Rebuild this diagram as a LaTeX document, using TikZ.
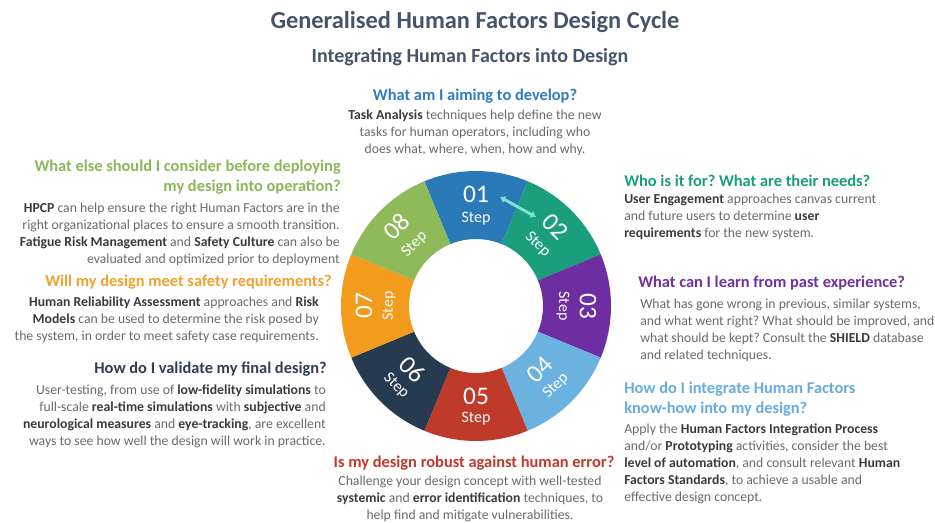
\documentclass[tikz,border=0pt]{standalone}
\usepackage{fontspec}
\setmainfont{Carlito}
\usepackage{xcolor}
\usepackage{tikz}
\usetikzlibrary{arrows.meta}
\definecolor{hfslate}{HTML}{44546A}
\definecolor{hfgray}{HTML}{6A6A6A}
\definecolor{hfdark}{HTML}{3A3A3A}
\definecolor{hfaqua}{HTML}{7FE3D4}
\definecolor{stepA}{HTML}{2A7AB8}
\definecolor{stepB}{HTML}{1A9E7E}
\definecolor{stepC}{HTML}{6C2EA0}
\definecolor{stepD}{HTML}{6CB2E0}
\definecolor{stepE}{HTML}{BF3A2B}
\definecolor{stepF}{HTML}{263B50}
\definecolor{stepG}{HTML}{F29B1D}
\definecolor{stepH}{HTML}{8FBA5A}
\definecolor{qA}{HTML}{2E7BBF}
\definecolor{qB}{HTML}{1A9C7D}
\definecolor{qC}{HTML}{7030A0}
\definecolor{qD}{HTML}{67ACDF}
\definecolor{qE}{HTML}{C0392B}
\definecolor{qF}{HTML}{2A3F55}
\definecolor{qG}{HTML}{F0A22E}
\definecolor{qH}{HTML}{8DB65A}
\newcommand{\kw}[1]{{\bfseries\color{hfdark}#1}}

\begin{document}
\frenchspacing
\begin{tikzpicture}[x=0.75pt,y=0.75pt,every node/.style={inner sep=0pt},
  qhead/.style={font=\fontsize{12.3}{15}\selectfont\bfseries},
  answer/.style={font=\fontsize{10.3}{12.75}\selectfont,text=hfgray},
  stepnum/.style={text=white,font=\fontsize{19}{19}\selectfont},
  stepword/.style={text=white,font=\fontsize{12}{12}\selectfont}]
  \useasboundingbox (0,0) rectangle (935,522);
  \node[font=\fontsize{18.3}{20}\selectfont\bfseries,text=hfslate] (title) at (475,500)
    {Generalised Human Factors Design Cycle};
  \node[font=\fontsize{15}{17}\selectfont\bfseries,text=hfslate] (subtitle) at (470,465)
    {Integrating Human Factors into Design};

  \coordinate (ctr) at (476,216);
  \foreach \num/\col/\rot/\rn/\rs [count=\i from 0] in {01/stepA/0/112/87,02/stepB/-45/112/87,
      03/stepC/-90/112/87,04/stepD/45/90/113,05/stepE/0/90/113,06/stepF/-45/90/113,
      07/stepG/90/112/87,08/stepH/45/112/87} {
    \pgfmathsetmacro\mid{90-45*\i}
    \fill[\col] ([shift={(\mid+22.5:135)}]ctr)
      arc[start angle=\mid+22.5,end angle=\mid-22.5,radius=135]
      -- ([shift={(\mid-22.5:67)}]ctr)
      arc[start angle=\mid-22.5,end angle=\mid+22.5,radius=67] -- cycle;
    \node[stepnum,rotate=\rot] (num\num) at ([shift={(\mid:\rn)}]ctr) {\num};
    \node[stepword,rotate=\rot] (word\num) at ([shift={(\mid:\rs)}]ctr) {Step};
  }
  \coordinate (arrS) at (500,325);
  \coordinate (arrE) at (536,305);
  \draw[{Latex[length=4pt,width=6pt]}-{Latex[length=4pt,width=6pt]},hfaqua,line width=2.2pt]
    (arrS) -- (arrE);

  \node[qhead,text=qA] (qTop) at (475,426) {What am I aiming to develop?};
  \node[answer,align=center] (aTop) at (475,389)
    {\kw{Task Analysis} techniques help define the new\\
     tasks for human operators, including who\\
     does what, where, when, how and why.};

  \node[qhead,text=qH,align=right,anchor=east] (qDeploy) at (341,345)
    {What else should I consider before deploying\\ my design into operation?};
  \node[answer,align=right,anchor=east] (aDeploy) at (340,288)
    {\kw{HPCP} can help ensure the right Human Factors are in the\\
     right organizational places to ensure a smooth transition.\\
     \kw{Fatigue Risk Management} and \kw{Safety Culture} can also be\\
     evaluated and optimized prior to deployment};

  \node[qhead,text=qG,anchor=east] (qSafety) at (332,240)
    {Will my design meet safety requirements?};
  \node[answer,align=right,anchor=east] (aSafety) at (319,202)
    {\kw{Human Reliability Assessment} approaches and \kw{Risk}\\
     \kw{Models} can be used to determine the risk posed by\\
     the system, in order to meet safety case requirements.};

  \node[qhead,text=qF,anchor=east] (qValid) at (327,153)
    {How do I validate my final design?};
  \node[answer,align=right,anchor=east] (aValid) at (326,106)
    {User-testing, from use of \kw{low-fidelity simulations} to\\
     full-scale \kw{real-time simulations} with \kw{subjective} and\\
     \kw{neurological measures} and \kw{eye-tracking}, are excellent\\
     ways to see how well the design will work in practice.};

  \node[qhead,text=qB,anchor=west] (qUsers) at (624,341)
    {Who is it for? What are their needs?};
  \node[answer,align=left,anchor=west] (aUsers) at (624,305)
    {\kw{User Engagement} approaches canvas current\\
     and future users to determine \kw{user}\\
     \kw{requirements} for the new system.};

  \node[qhead,text=qC,anchor=west] (qPast) at (638,239)
    {What can I learn from past experience?};
  \node[answer,align=left,anchor=west] (aPast) at (640,192)
    {What has gone wrong in previous, similar systems,\\
     and what went right? What should be improved, and\\
     what should be kept? Consult the \kw{SHIELD} database\\
     and related techniques.};

  \node[qhead,text=qD,align=left,anchor=west] (qIntegr) at (624,123)
    {How do I integrate Human Factors\\ know-how into my design?};
  \node[answer,align=left,anchor=west] (aIntegr) at (624,58)
    {Apply the \kw{Human Factors Integration Process}\\
     and/or \kw{Prototyping} activities, consider the best\\
     \kw{level of automation}, and consult relevant \kw{Human}\\
     \kw{Factors Standards}, to achieve a usable and\\
     effective design concept.};

  \node[qhead,text=qE] (qError) at (474,59) {Is my design robust against human error?};
  \node[answer,align=center] (aError) at (470,23)
    {Challenge your design concept with well-tested\\
     \kw{systemic} and \kw{error identification} techniques, to\\
     help find and mitigate vulnerabilities.};
\end{tikzpicture}
\end{document}
